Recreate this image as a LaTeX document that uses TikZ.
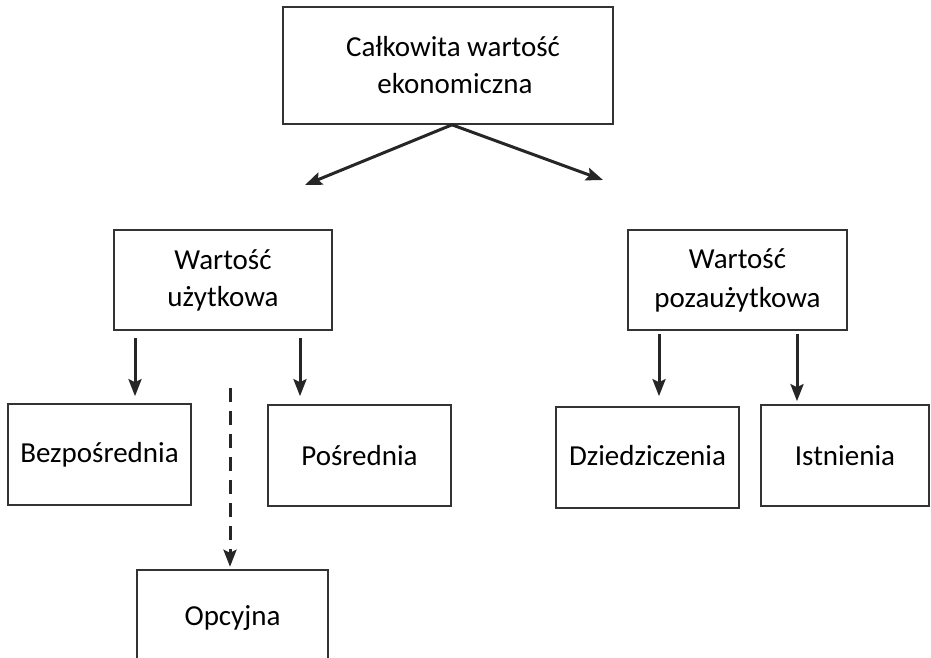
\documentclass[tikz,border=0pt]{standalone}
\usepackage{fontspec}
\setmainfont{Carlito}
\usetikzlibrary{arrows.meta}
\begin{document}
\begin{tikzpicture}[x=1pt,y=-1pt,
  box/.style={draw=black!80,line width=1.6pt,rectangle,inner sep=0pt,align=center,
    font=\fontsize{29}{37}\selectfont},
  bare/.style={rectangle,inner sep=0pt,align=center,font=\fontsize{29}{37}\selectfont},
  arr/.style={line width=3pt,black!85,-{Stealth[length=17pt,width=13pt,inset=3pt]}},
  darr/.style={arr,dash pattern=on 14pt off 9pt}]
\useasboundingbox (0,0) rectangle (931,658);
% boxes
\node[box,minimum width=330pt,minimum height=117pt] (t) at (448,65.5) {\hspace*{10pt}Całkowita wartość\\\hspace*{14pt}ekonomiczna};
\node[box,minimum width=218pt,minimum height=100pt] (u) at (223,280) {Wartość\\użytkowa};
\node[box,minimum width=219pt,minimum height=100pt] (p) at (737.5,280) {\raisebox{2pt}{Wartość}\\pozaużytkowa};
\node[box,minimum width=183pt,minimum height=101pt] (b) at (99.5,454.5) {\raisebox{-3pt}{Bezpośrednia}};
\node[box,minimum width=183pt,minimum height=101pt] (s) at (359.5,455.5) {\raisebox{-3pt}{Pośrednia}};
\node[box,minimum width=183pt,minimum height=101pt] (d) at (647.5,457.5) {\raisebox{5pt}{Dziedziczenia}};
\node[box,minimum width=168pt,minimum height=101pt] (i) at (845,455.5) {\raisebox{-3pt}{Istnienia}};
\node[bare,minimum width=191pt,minimum height=96pt] (o) at (232.5,618) {Opcyjna};
\draw[black!80,line width=1.6pt] (o.south west) -- (o.north west) -- (o.north east) -- (o.south east);
% free ends and x positions
\coordinate (tl) at (305,185);
\coordinate (tr) at (603,180);
\coordinate (x1) at (135,0);
\coordinate (x2) at (300,0);
\coordinate (x3) at (230,0);
\coordinate (x4) at (659,0);
\coordinate (x5) at (797,0);
% connectors
\draw[arr] ([xshift=4pt]t.south) -- (tl);
\draw[arr] ([xshift=4pt]t.south) -- (tr);
\draw[arr,shorten <=7pt,shorten >=7pt] (u.south -| x1) -- (b.north -| x1);
\draw[arr,shorten <=7pt,shorten >=8pt] (u.south -| x2) -- (s.north -| x2);
\draw[darr,shorten <=57pt,shorten >=3pt] (u.south -| x3) -- (o.north -| x3);
\draw[arr,shorten <=3pt,shorten >=10pt] (p.south -| x4) -- (d.north -| x4);
\draw[arr,shorten <=3pt,shorten >=3pt] (p.south -| x5) -- (i.north -| x5);
\end{tikzpicture}
\end{document}
